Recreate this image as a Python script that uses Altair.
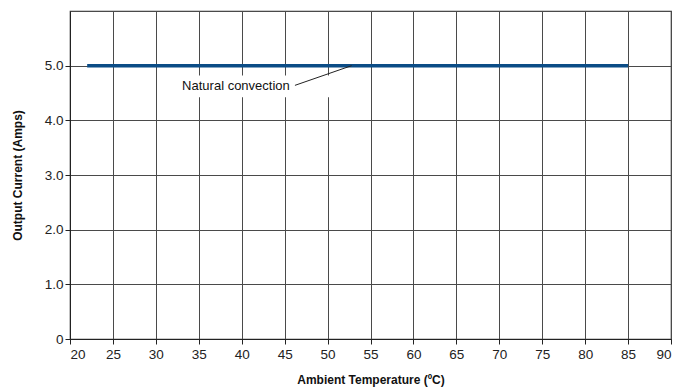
import altair as alt
import pandas as pd

# Data
temps = [22, 85]
currents = [5.0, 5.0]
series_name = "Natural convection"

label_text = ["Natural convection"]
label_x = [45.6]
label_y = [4.62]
leader_x = [46.2]
leader_y = [4.64]
leader_x2 = [52.8]
leader_y2 = [5.0]
box_x = [31.8]
box_x2 = [50.4]
box_y = [4.42]
box_y2 = [4.82]

x_grid = [20 + 2.5 * i for i in range(29)]
y_grid = [0, 1, 2, 3, 4, 5, 6]

FONT = "Liberation Sans"

line_df = pd.DataFrame({"t": temps, "c": currents, "s": [series_name] * len(temps)})
ann_df = pd.DataFrame({"text": label_text, "x": label_x, "y": label_y,
                       "lx": leader_x, "ly": leader_y, "lx2": leader_x2, "ly2": leader_y2,
                       "bx": box_x, "bx2": box_x2, "by": box_y, "by2": box_y2})

xscale = alt.Scale(domain=[20, 90], nice=False, zero=False)
yscale = alt.Scale(domain=[0, 6], nice=False)

xaxis = alt.Axis(
    title="Ambient Temperature (ºC)",
    values=x_grid,
    labelExpr="datum.value % 5 == 0 ? format(datum.value, 'd') : ''",
    tickOpacity={"condition": {"test": "datum.value % 5 == 0", "value": 1}, "value": 0},
    grid=True, gridColor="#4a4a4a", gridWidth=1, gridOpacity=1,
    domainColor="#222", tickColor="#222", tickSize=5,
    labelFont=FONT, labelFontSize=13.5, labelColor="#222", labelPadding=3,
    titleFont=FONT, titleFontSize=12, titleFontWeight="bold", titleColor="#111", titlePadding=14,
)
yaxis = alt.Axis(
    title="Output Current (Amps)",
    values=y_grid,
    labelExpr="datum.value == 0 ? '0' : (datum.value >= 6 ? '' : format(datum.value, '.1f'))",
    tickOpacity={"condition": {"test": "datum.value < 6", "value": 1}, "value": 0},
    grid=True, gridColor="#4a4a4a", gridWidth=1, gridOpacity=1,
    domainColor="#222", tickColor="#222", tickSize=5,
    labelFont=FONT, labelFontSize=13.5, labelColor="#222", labelPadding=2,
    titleFont=FONT, titleFontSize=12, titleFontWeight="bold", titleColor="#111", titlePadding=20,
)

line = alt.Chart(line_df).mark_line(color="#0b4c86", strokeWidth=3.5).encode(
    x=alt.X("t:Q", scale=xscale, axis=xaxis),
    y=alt.Y("c:Q", scale=yscale, axis=yaxis),
)

box = alt.Chart(ann_df).mark_rect(color="white").encode(
    x=alt.X("bx:Q", scale=xscale), x2="bx2:Q",
    y=alt.Y("by:Q", scale=yscale), y2="by2:Q",
)
leader = alt.Chart(ann_df).mark_rule(color="#222", strokeWidth=1).encode(
    x=alt.X("lx:Q", scale=xscale), x2="lx2:Q",
    y=alt.Y("ly:Q", scale=yscale), y2="ly2:Q",
)
text = alt.Chart(ann_df).mark_text(align="right", baseline="middle", font=FONT,
                                   fontSize=13, color="#111").encode(
    x=alt.X("x:Q", scale=xscale), y=alt.Y("y:Q", scale=yscale), text="text:N",
)

chart = alt.layer(box, line, leader, text).properties(
    width=601, height=328,
    padding={"left": 62, "top": 3, "right": 13, "bottom": 48},
    autosize=alt.AutoSizeParams(type="none"),
).configure_view(stroke="#333", strokeWidth=1.2)

chart.save("out.html", embed_options={"renderer": "svg", "actions": False})
